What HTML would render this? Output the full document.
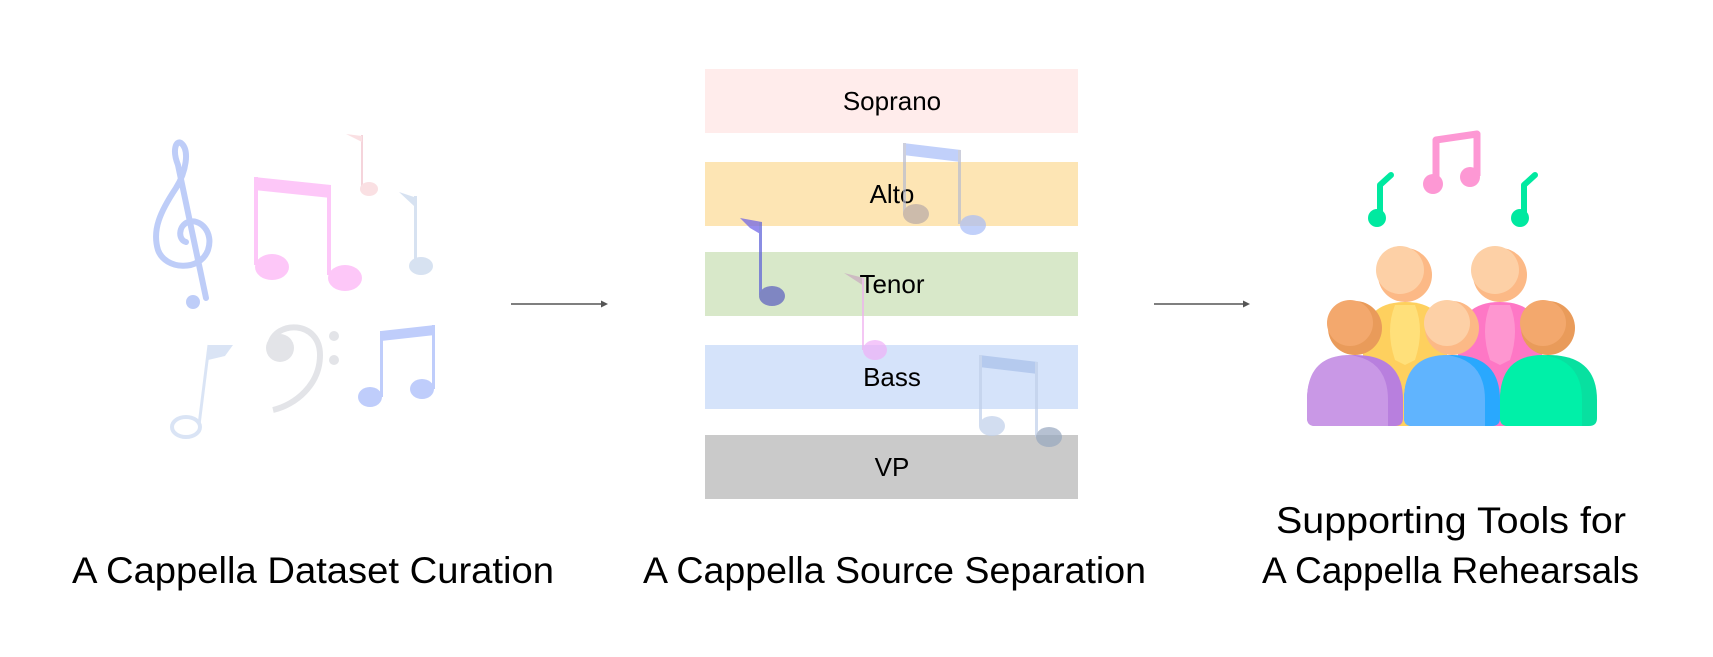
<!DOCTYPE html>
<html><head><meta charset="utf-8"><style>
html,body{margin:0;padding:0;background:#fff;}
svg{display:block;}
text{font-family:"Liberation Sans",sans-serif;}
</style></head><body>
<svg width="1713" height="657" viewBox="0 0 1713 657" xmlns="http://www.w3.org/2000/svg">
<!-- left notes -->
<g opacity="0.9">
  <!-- treble clef -->
  <path d="M206 298 L178 165 C172 150 176 140 181 143 C190 150 186 172 176 188 C160 212 152 230 158 250 C165 270 200 272 208 250 C214 232 200 218 188 222 C178 226 178 240 186 242" fill="none" stroke="#b8c8f8" stroke-width="6" stroke-linecap="round" stroke-linejoin="round"/>
  <circle cx="193" cy="302" r="7" fill="#b8c8f8"/>
  <!-- pink beamed -->
  <polygon points="254,177 331,185 331,198 254,190" fill="#fdc2f8"/>
  <rect x="254" y="177" width="4" height="88" fill="#fdc2f8"/>
  <rect x="327" y="185" width="4" height="90" fill="#fdc2f8"/>
  <ellipse cx="272" cy="267" rx="17" ry="13" fill="#fdc2f8"/>
  <ellipse cx="345" cy="278" rx="17" ry="13" fill="#fdc2f8"/>
  <!-- small pink -->
  <rect x="361" y="135" width="2" height="54" fill="#f5d0d8"/>
  <polygon points="346,134 362,136 362,142" fill="#fadde0"/>
  <ellipse cx="369" cy="189" rx="9" ry="7" fill="#fadde0"/>
  <!-- light blue -->
  <polygon points="399,192 417,198 414,206" fill="#d3dff0"/>
  <rect x="414" y="196" width="3" height="68" fill="#d3dff0"/>
  <ellipse cx="421" cy="266" rx="12" ry="9" fill="#d3dff0"/>
  <!-- faint single bottom left -->
  <path d="M208 345 L233 345 L225 356 L208 360 Z" fill="#d6e2f4"/>
  <line x1="209" y1="345" x2="199" y2="425" stroke="#d6e2f4" stroke-width="3"/>
  <ellipse cx="186" cy="427" rx="14" ry="10" fill="none" stroke="#d6e2f4" stroke-width="4"/>
  <!-- bass clef -->
  <circle cx="280" cy="348" r="14" fill="#e0e2e6"/>
  <path d="M270 345 C275 320 320 320 320 355 C320 385 295 405 273 410" fill="none" stroke="#e0e2e6" stroke-width="6"/>
  <circle cx="334" cy="336" r="5" fill="#e0e2e6"/>
  <circle cx="334" cy="360" r="5" fill="#e0e2e6"/>
  <!-- blue beamed -->
  <polygon points="381,331 435,325 435,335 381,341" fill="#b9c8fb"/>
  <rect x="380" y="331" width="3" height="66" fill="#b9c8fb"/>
  <rect x="432" y="325" width="3" height="64" fill="#b9c8fb"/>
  <ellipse cx="370" cy="397" rx="12" ry="10" fill="#b9c8fb"/>
  <ellipse cx="422" cy="389" rx="12" ry="10" fill="#b9c8fb"/>
</g>

<!-- arrows -->
<line x1="511" y1="304" x2="604" y2="304" stroke="#555" stroke-width="1.5"/>
<polygon points="608,304 601,300.5 601,307.5" fill="#555"/>
<line x1="1154" y1="304" x2="1246" y2="304" stroke="#555" stroke-width="1.5"/>
<polygon points="1250,304 1243,300.5 1243,307.5" fill="#555"/>

<!-- bars -->
<rect x="705" y="69" width="373" height="64" fill="#ffeceb"/>
<rect x="705" y="162" width="373" height="64" fill="#fde5b4"/>
<rect x="705" y="252" width="373" height="64" fill="#d8e8c9"/>
<rect x="705" y="345" width="373" height="64" fill="#d5e3fa"/>
<rect x="705" y="435" width="373" height="64" fill="#cacaca"/>
<g font-size="26" fill="#000" text-anchor="middle">
  <text x="892" y="110">Soprano</text>
  <text x="892" y="203">Alto</text>
  <text x="892" y="293">Tenor</text>
  <text x="892" y="386">Bass</text>
  <text x="892" y="476">VP</text>
</g>
<!-- overlay notes -->
<g opacity="0.7">
  <polygon points="740,218 762,222 762,235 750,228" fill="#6a5ee8"/>
  <rect x="759" y="222" width="3" height="73" fill="#5a5ed8"/>
  <ellipse cx="772" cy="296" rx="13" ry="10" fill="#5a5ec0"/>
  <polygon points="844,273 864,278 864,286" fill="#c9a8c0"/>
  <rect x="862" y="278" width="2" height="72" fill="#f0b0f0"/>
  <ellipse cx="875" cy="350" rx="12" ry="10" fill="#f0b0f8"/>
  <polygon points="903,143 961,150 961,162 903,155" fill="#a8bdf8"/>
  <rect x="903" y="143" width="3" height="72" fill="#b8bcd0"/>
  <rect x="958" y="150" width="3" height="74" fill="#b8bcd0"/>
  <ellipse cx="916" cy="214" rx="13" ry="10" fill="#b8aaa8"/>
  <ellipse cx="973" cy="225" rx="13" ry="10" fill="#a8bdf8"/>
  <polygon points="979,355 1038,362 1038,374 979,367" fill="#a8c0ea"/>
  <rect x="979" y="355" width="3" height="71" fill="#c0d0ea"/>
  <rect x="1035" y="362" width="3" height="75" fill="#c0d0ea"/>
  <ellipse cx="992" cy="426" rx="13" ry="10" fill="#c0d0ea"/>
  <ellipse cx="1049" cy="437" rx="13" ry="10" fill="#98a8c0"/>
</g>

<!-- people icon -->
<g>
  <rect x="1377" y="185" width="6" height="35" fill="#00e9a0"/>
  <line x1="1380" y1="185" x2="1391" y2="175" stroke="#00e9a0" stroke-width="6" stroke-linecap="round"/>
  <circle cx="1377" cy="218" r="9" fill="#00e9a0"/>
  <rect x="1521" y="185" width="6" height="35" fill="#00e9a0"/>
  <line x1="1524" y1="185" x2="1535" y2="175" stroke="#00e9a0" stroke-width="6" stroke-linecap="round"/>
  <circle cx="1520" cy="218" r="9" fill="#00e9a0"/>
  <path d="M1436 182 L1436 140 L1477 134 L1477 176" fill="none" stroke="#fd98d4" stroke-width="7" stroke-linejoin="round"/>
  <circle cx="1433" cy="184" r="10" fill="#fd98d4"/>
  <circle cx="1470" cy="177" r="10" fill="#fd98d4"/>
  <path d="M1363 426 L1363 345 Q1363 302 1405 302 Q1447 302 1447 345 L1447 426 Z" fill="#fed05e"/>
  <path d="M1395 305 Q1385 330 1395 360 L1405 365 L1415 360 Q1425 330 1415 305 Z" fill="#ffe07a"/>
  <path d="M1458 426 L1458 345 Q1458 302 1500 302 Q1542 302 1542 345 L1542 426 Z" fill="#fe77c5"/>
  <path d="M1490 305 Q1480 330 1490 360 L1500 365 L1510 360 Q1520 330 1510 305 Z" fill="#fe96d0"/>
  <circle cx="1405" cy="275" r="27" fill="#fcb986"/>
  <circle cx="1400" cy="270" r="24" fill="#fdd0a6"/>
  <circle cx="1500" cy="275" r="27" fill="#fcb986"/>
  <circle cx="1495" cy="270" r="24" fill="#fdd0a6"/>
  <circle cx="1355" cy="328" r="27" fill="#e99b5a"/>
  <circle cx="1350" cy="323" r="23" fill="#f3a86d"/>
  <circle cx="1452" cy="328" r="27" fill="#fcb986"/>
  <circle cx="1447" cy="323" r="23" fill="#fdd0a6"/>
  <circle cx="1548" cy="328" r="27" fill="#e99b5a"/>
  <circle cx="1543" cy="323" r="23" fill="#f3a86d"/>
  <path d="M1307 418 L1307 400 Q1307 355 1355 355 Q1403 355 1403 400 L1403 418 Q1403 426 1395 426 L1315 426 Q1307 426 1307 418 Z" fill="#b87fde"/>
  <path d="M1307 418 L1307 400 Q1307 355 1350 355 Q1388 360 1388 400 L1388 426 L1315 426 Q1307 426 1307 418 Z" fill="#c998e6"/>
  <path d="M1404 418 L1404 400 Q1404 355 1452 355 Q1500 355 1500 400 L1500 418 Q1500 426 1492 426 L1412 426 Q1404 426 1404 418 Z" fill="#29a8fe"/>
  <path d="M1404 418 L1404 400 Q1404 355 1447 355 Q1485 360 1485 400 L1485 426 L1412 426 Q1404 426 1404 418 Z" fill="#60b4fe"/>
  <path d="M1500 418 L1500 400 Q1500 355 1548 355 Q1597 355 1597 400 L1597 418 Q1597 426 1589 426 L1508 426 Q1500 426 1500 418 Z" fill="#08e0a0"/>
  <path d="M1500 418 L1500 400 Q1500 355 1543 355 Q1582 360 1582 400 L1582 426 L1508 426 Q1500 426 1500 418 Z" fill="#00f0a8"/>
</g>

<!-- captions -->
<g font-size="37" fill="#000">
  <text x="72" y="583" textLength="482" lengthAdjust="spacingAndGlyphs">A Cappella Dataset Curation</text>
  <text x="643" y="583" textLength="503" lengthAdjust="spacingAndGlyphs">A Cappella Source Separation</text>
  <text x="1276" y="533" textLength="350" lengthAdjust="spacingAndGlyphs">Supporting Tools for</text>
  <text x="1262" y="583" textLength="377" lengthAdjust="spacingAndGlyphs">A Cappella Rehearsals</text>
</g>
</svg>
</body></html>
